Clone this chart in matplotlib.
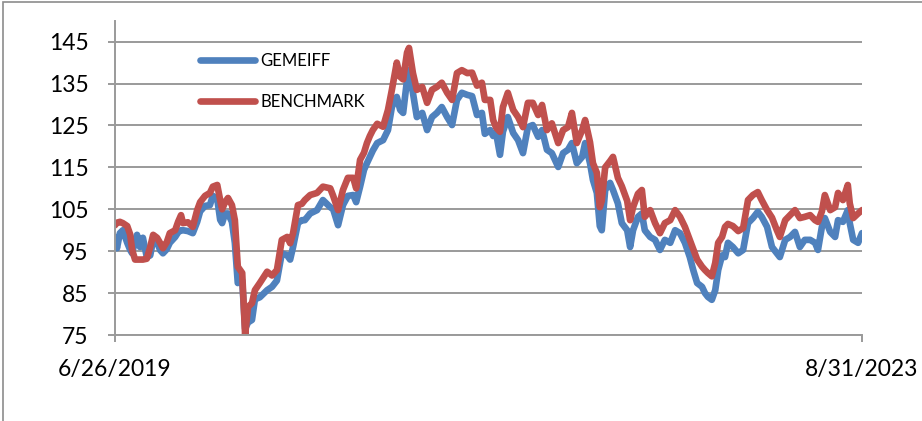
import pandas as pd
import matplotlib.pyplot as plt
from matplotlib.patches import Rectangle

# values
dates = [
    "2019-06-26", "2019-06-30", "2019-07-06", "2019-07-12", "2019-07-21", "2019-07-27", "2019-07-31",
    "2019-08-06", "2019-08-10", "2019-08-16", "2019-08-22", "2019-08-30", "2019-09-06", "2019-09-12",
    "2019-09-20", "2019-09-26", "2019-10-02", "2019-10-10", "2019-10-16", "2019-10-27", "2019-11-02",
    "2019-11-08", "2019-11-12", "2019-11-22", "2019-12-02", "2019-12-11", "2019-12-17", "2019-12-27",
    "2020-01-06", "2020-01-12", "2020-01-21", "2020-01-27", "2020-01-31", "2020-02-06", "2020-02-12",
    "2020-02-20", "2020-02-26", "2020-03-03", "2020-03-12", "2020-03-18", "2020-03-24", "2020-04-01",
    "2020-04-07", "2020-04-17", "2020-05-02", "2020-05-12", "2020-05-22", "2020-06-01", "2020-06-12",
    "2020-06-18", "2020-06-24", "2020-07-04", "2020-07-12", "2020-07-18", "2020-07-29", "2020-08-12",
    "2020-08-24", "2020-09-08", "2020-09-14", "2020-09-24", "2020-10-04", "2020-10-14", "2020-10-25",
    "2020-10-31", "2020-11-08", "2020-11-16", "2020-11-22", "2020-11-28", "2020-12-04", "2020-12-13",
    "2020-12-25", "2021-01-04", "2021-01-12", "2021-01-22", "2021-01-29", "2021-02-04", "2021-02-12",
    "2021-02-16", "2021-02-24", "2021-03-04", "2021-03-15", "2021-03-25", "2021-04-04", "2021-04-14",
    "2021-04-24", "2021-05-05", "2021-05-15", "2021-05-25", "2021-06-04", "2021-06-15", "2021-06-25",
    "2021-07-05", "2021-07-15", "2021-07-21", "2021-08-01", "2021-08-07", "2021-08-13", "2021-08-21",
    "2021-08-27", "2021-09-06", "2021-09-17", "2021-09-27", "2021-10-07", "2021-10-17", "2021-10-27",
    "2021-11-07", "2021-11-15", "2021-11-25", "2021-12-05", "2021-12-18", "2021-12-28", "2022-01-07",
    "2022-01-15", "2022-01-25", "2022-02-05", "2022-02-11", "2022-02-21", "2022-02-27", "2022-03-07",
    "2022-03-13", "2022-03-17", "2022-03-24", "2022-04-03", "2022-04-09", "2022-04-19", "2022-04-27",
    "2022-05-08", "2022-05-14", "2022-05-20", "2022-05-30", "2022-06-07", "2022-06-13", "2022-06-24",
    "2022-07-04", "2022-07-14", "2022-07-24", "2022-08-04", "2022-08-14", "2022-08-24", "2022-09-03",
    "2022-09-13", "2022-09-20", "2022-09-28", "2022-10-08", "2022-10-14", "2022-10-20", "2022-10-28",
    "2022-11-04", "2022-11-10", "2022-11-18", "2022-11-24", "2022-11-30", "2022-12-10", "2022-12-21",
    "2022-12-31", "2023-01-10", "2023-01-20", "2023-01-30", "2023-02-07", "2023-02-18", "2023-02-28",
    "2023-03-10", "2023-03-16", "2023-03-27", "2023-04-06", "2023-04-16", "2023-04-26", "2023-05-06",
    "2023-05-17", "2023-05-27", "2023-06-02", "2023-06-10", "2023-06-16", "2023-06-27", "2023-07-07",
    "2023-07-13", "2023-07-23", "2023-08-02", "2023-08-06", "2023-08-13", "2023-08-23", "2023-08-31",
]

gemeiff = [
    98.4, 95.7, 99.3, 100.0, 97.0, 95.3, 94.5,
    97.5, 98.9, 96.0, 98.2, 93.6, 94.0, 97.7,
    97.2, 95.3, 94.5, 95.5, 97.0, 98.4, 99.5,
    100.0, 100.0, 99.8, 99.3, 102.0, 104.5, 105.8,
    106.0, 108.2, 107.5, 102.5, 101.7, 104.0, 104.0,
    102.0, 97.0, 87.4, 88.0, 76.5, 78.0, 78.6,
    83.5, 84.0, 85.7, 86.5, 88.0, 94.5, 94.0,
    93.0, 96.0, 101.7, 102.4, 102.4, 104.0, 104.8,
    107.2, 105.5, 105.0, 101.2, 106.0, 108.2, 108.4,
    106.7, 110.4, 114.4, 116.0, 117.5, 119.0, 120.8,
    121.5, 123.9, 129.4, 131.8, 128.7, 128.0, 135.9,
    138.2, 132.8, 127.0, 128.0, 123.9, 127.0, 128.0,
    129.4, 127.0, 125.1, 131.1, 132.8, 132.3, 132.0,
    127.5, 128.0, 123.0, 123.9, 122.5, 123.2, 118.0,
    123.5, 127.0, 123.2, 121.5, 118.4, 124.6, 125.1,
    122.3, 123.9, 119.2, 118.4, 115.1, 118.4, 119.2,
    120.8, 116.0, 117.5, 120.8, 116.0, 112.0, 108.9,
    101.0, 100.0, 109.6, 111.3, 109.6, 106.4, 101.7,
    100.0, 96.0, 100.0, 103.2, 104.0, 100.0, 98.4,
    97.7, 95.3, 97.7, 97.0, 100.0, 99.3, 97.0,
    93.6, 90.5, 87.4, 86.5, 85.0, 84.1, 83.4,
    85.7, 90.5, 94.0, 93.6, 97.0, 96.0, 94.5,
    95.3, 101.7, 102.9, 104.4, 103.2, 100.8, 96.0,
    94.5, 93.6, 97.7, 98.4, 99.6, 96.0, 97.7,
    97.7, 97.0, 95.3, 100.8, 102.9, 99.6, 98.4,
    102.4, 102.0, 104.8, 101.7, 97.7, 97.0, 99.3,
]

benchmark = [
    101.2, 101.8, 102.0, 101.7, 101.0, 99.0, 95.3,
    93.0, 93.0, 93.0, 93.0, 93.2, 96.0, 98.9,
    98.2, 97.0, 95.7, 97.2, 99.3, 100.0, 102.0,
    103.6, 101.7, 101.9, 100.8, 104.8, 106.7, 108.2,
    108.9, 110.4, 110.8, 107.2, 105.0, 106.7, 107.7,
    106.0, 102.4, 91.3, 89.8, 75.0, 81.7, 82.6,
    85.7, 87.4, 90.1, 89.2, 90.5, 97.7, 98.4,
    96.9, 99.3, 106.0, 106.3, 107.2, 108.4, 108.9,
    110.4, 110.0, 108.2, 104.8, 109.6, 112.5, 112.5,
    110.0, 116.8, 118.5, 120.8, 122.5, 123.9, 125.4,
    124.7, 128.7, 133.5, 140.0, 136.6, 136.0, 142.4,
    143.5, 137.5, 133.5, 134.2, 130.4, 133.5, 134.2,
    135.2, 132.8, 131.1, 137.5, 138.2, 137.5, 137.6,
    134.5, 135.2, 131.1, 131.1, 126.3, 124.5, 123.5,
    129.4, 132.8, 128.7, 127.0, 124.6, 130.4, 130.4,
    127.5, 129.9, 123.9, 125.5, 120.8, 123.9, 124.6,
    128.0, 120.8, 123.9, 126.3, 121.0, 116.0, 113.7,
    105.5, 107.0, 115.0, 116.5, 117.5, 112.5, 110.5,
    107.0, 102.4, 105.5, 108.7, 109.6, 103.2, 104.8,
    101.7, 99.3, 101.7, 102.4, 104.8, 103.2, 100.8,
    97.7, 95.5, 93.0, 91.3, 90.5, 89.8, 89.0,
    92.2, 97.0, 98.4, 100.8, 101.5, 101.0, 99.8,
    100.5, 107.2, 108.4, 109.1, 107.2, 104.8, 103.0,
    100.0, 98.4, 102.4, 103.6, 104.8, 102.9, 103.2,
    103.6, 102.4, 102.0, 104.5, 108.4, 104.8, 105.5,
    108.9, 107.2, 110.8, 106.4, 102.9, 104.0, 104.8,
]

plt.rcParams['font.family'] = ['Lato', 'DejaVu Sans']

W, H = 922, 421
fig = plt.figure(figsize=(W / 100, H / 100), dpi=100)
ax = fig.add_axes([115 / W, 86 / H, 747 / W, 314.3 / H])

x = pd.to_datetime(dates)
ax.plot(x, gemeiff, color="#4F81BD", lw=4.8, label="GEMEIFF",
        solid_joinstyle="round", solid_capstyle="round")
ax.plot(x, benchmark, color="#C0504D", lw=4.8, label="BENCHMARK",
        solid_joinstyle="round", solid_capstyle="round")

ax.set_ylim(75, 150)
ax.set_yticks(range(75, 146, 10))
ax.set_xlim(x[0], x[-1])
ax.set_xticks([x[0], x[-1]])
ax.set_xticklabels(["6/26/2019", "8/31/2023"])

grey = "#9A9A9A"
ax.grid(axis="y", color=grey, lw=1.4)
ax.set_axisbelow(True)
ax.spines["top"].set_visible(False)
ax.spines["right"].set_visible(False)
for s in ["left", "bottom"]:
    ax.spines[s].set_color(grey)
    ax.spines[s].set_linewidth(1.4)
ax.tick_params(axis="y", length=5, width=1.4, color=grey, pad=14, labelsize=16.5)
ax.tick_params(axis="x", length=5, width=1.4, color=grey, pad=12, labelsize=16.5)

ax.legend(loc="upper left", bbox_to_anchor=(200 / W, 1 - 53 / H),
          bbox_transform=fig.transFigure, frameon=False, fontsize=12,
          handlelength=3.3, handletextpad=0.3, labelspacing=1.5,
          borderpad=0, borderaxespad=0)

# chart area border
fig.patches.append(Rectangle((2.5 / W, -0.1), 1.2, 1.1 - 2.5 / H,
                             transform=fig.transFigure, fill=False,
                             ec="#8C8C8C", lw=1.2))

fig.savefig("out.png")
